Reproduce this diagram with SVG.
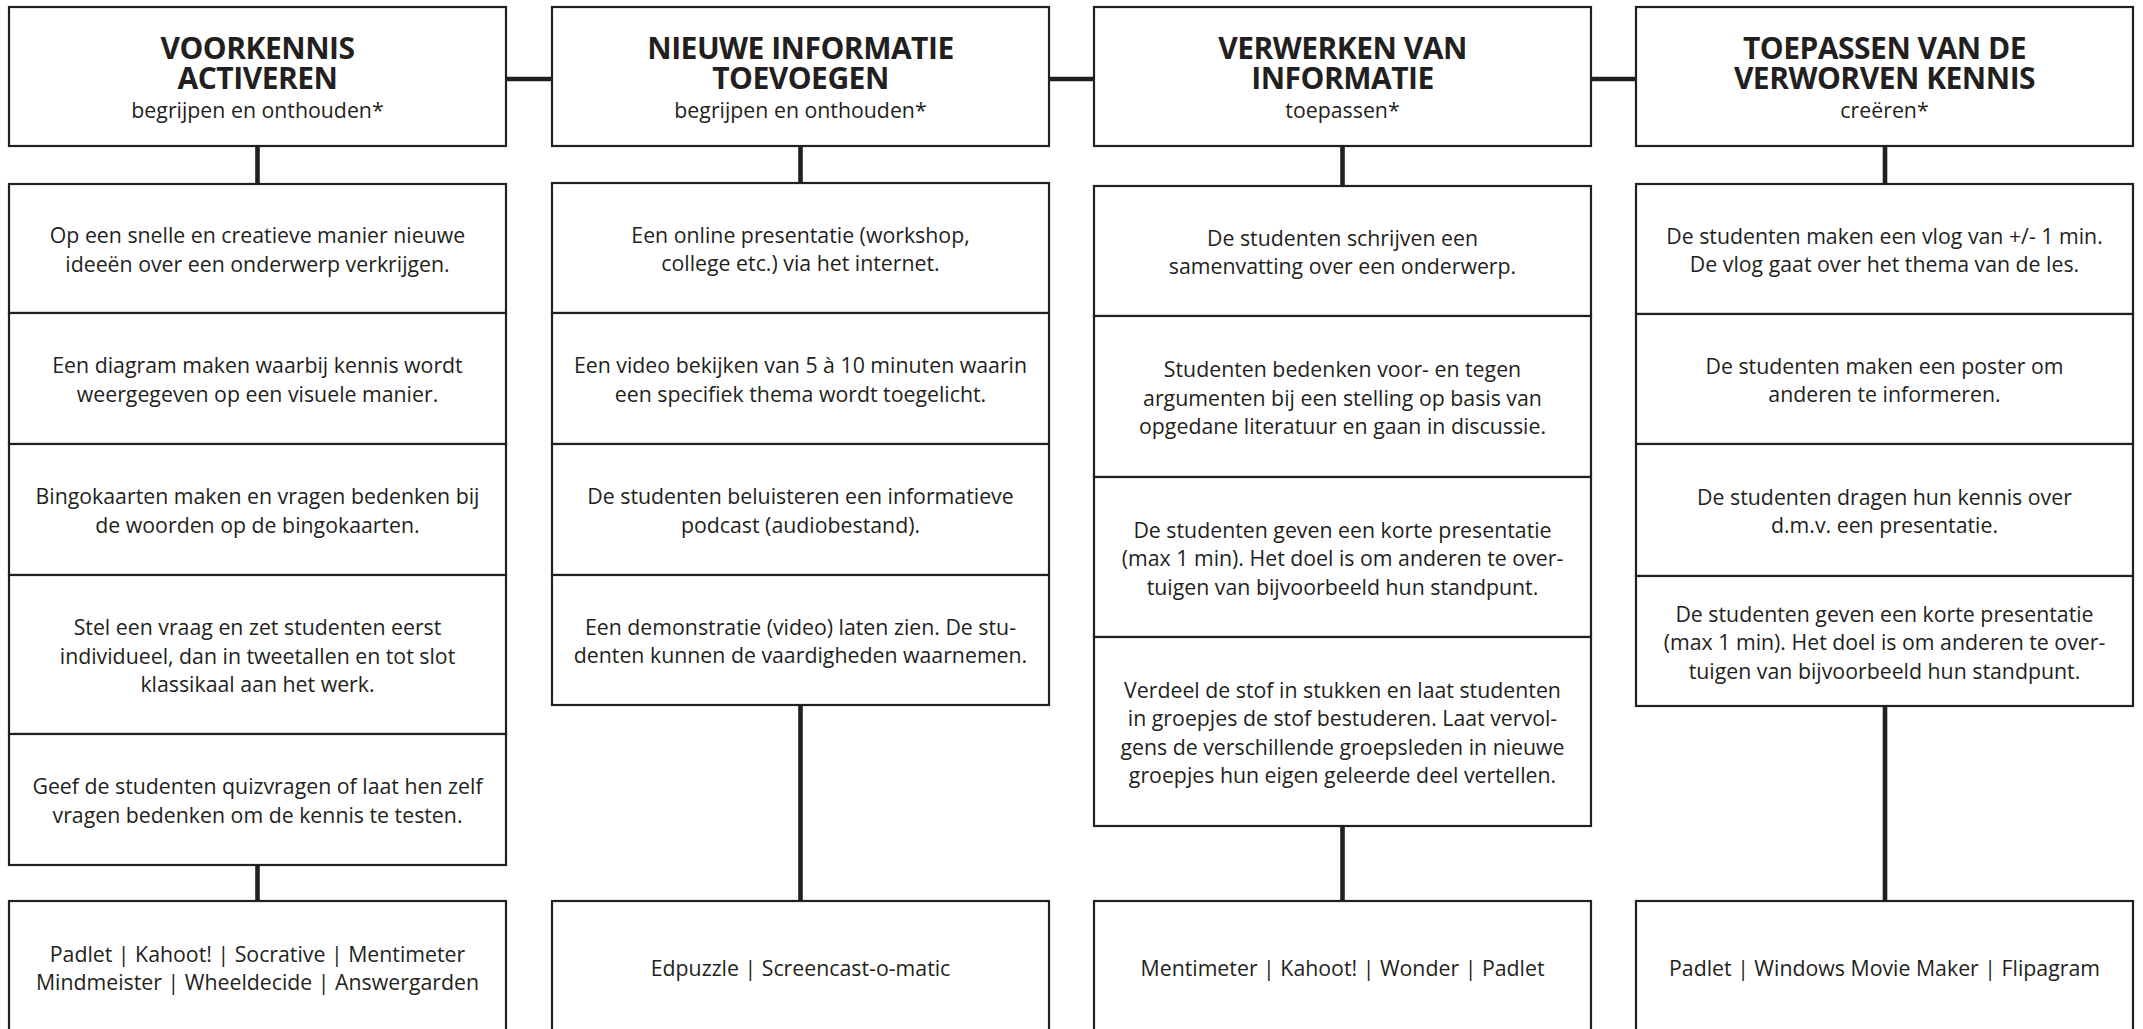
<svg xmlns="http://www.w3.org/2000/svg" width="2143" height="1029" viewBox="0 0 2143 1029">
<style>
.bg{fill:#ffffff}
.box{fill:#ffffff;stroke:#231f20;stroke-width:2.2}
.conn{stroke:#231f20;stroke-width:4.6;fill:none}
.hd{font-family:"Open Sans","Liberation Sans",sans-serif;fill:#231f20;text-anchor:middle}
.b{font-weight:700;font-size:30px;letter-spacing:-0.5px}
.s{font-weight:400;font-size:21.3px;letter-spacing:0}
.t{font-family:"Open Sans","Liberation Sans",sans-serif;font-size:21.3px;fill:#231f20;text-anchor:middle}
</style>
<rect class="bg" x="0" y="0" width="2143" height="1029"/>
<g id="connectors">
<line class="conn" x1="506" y1="79" x2="552" y2="79"/>
<line class="conn" x1="1049" y1="79" x2="1094" y2="79"/>
<line class="conn" x1="1591" y1="79" x2="1636" y2="79"/>
<line class="conn" x1="257.5" y1="146" x2="257.5" y2="184"/>
<line class="conn" x1="800.5" y1="146" x2="800.5" y2="183"/>
<line class="conn" x1="1342.5" y1="146" x2="1342.5" y2="186"/>
<line class="conn" x1="1885" y1="146" x2="1885" y2="184"/>
<line class="conn" x1="257.5" y1="865" x2="257.5" y2="901"/>
<line class="conn" x1="800.5" y1="705" x2="800.5" y2="901"/>
<line class="conn" x1="1342.5" y1="826" x2="1342.5" y2="901"/>
<line class="conn" x1="1885" y1="706" x2="1885" y2="901"/>
</g>

<!-- Column 1 -->
<g id="h1">
<rect class="box" x="9" y="7" width="497" height="139"/>
<text class="hd"><tspan class="b" x="257.5" y="59">VOORKENNIS</tspan><tspan class="b" x="257.5" y="89">ACTIVEREN</tspan><tspan class="s" x="257.5" y="118">begrijpen en onthouden*</tspan></text>
</g>
<g id="c1a">
<rect class="box" x="9" y="184" width="497" height="129"/>
<text class="t" x="257.5" y="243.3">Op een snelle en creatieve manier nieuwe</text>
<text class="t" x="257.5" y="271.8">ideeën over een onderwerp verkrijgen.</text>
</g>
<g id="c1b">
<rect class="box" x="9" y="313" width="497" height="131"/>
<text class="t" x="257.5" y="373.3">Een diagram maken waarbij kennis wordt</text>
<text class="t" x="257.5" y="401.8">weergegeven op een visuele manier.</text>
</g>
<g id="c1c">
<rect class="box" x="9" y="444" width="497" height="131"/>
<text class="t" x="257.5" y="504.3">Bingokaarten maken en vragen bedenken bij</text>
<text class="t" x="257.5" y="532.8">de woorden op de bingokaarten.</text>
</g>
<g id="c1d">
<rect class="box" x="9" y="575" width="497" height="159"/>
<text class="t" x="257.5" y="635">Stel een vraag en zet studenten eerst</text>
<text class="t" x="257.5" y="663.5">individueel, dan in tweetallen en tot slot</text>
<text class="t" x="257.5" y="692">klassikaal aan het werk.</text>
</g>
<g id="c1e">
<rect class="box" x="9" y="734" width="497" height="131"/>
<text class="t" x="257.5" y="794.3">Geef de studenten quizvragen of laat hen zelf</text>
<text class="t" x="257.5" y="822.8">vragen bedenken om de kennis te testen.</text>
</g>
<g id="t1">
<rect class="box" x="9" y="901" width="497" height="133"/>
<text class="t" x="257.5" y="961.8">Padlet | Kahoot! | Socrative | Mentimeter</text>
<text class="t" x="257.5" y="990.3">Mindmeister | Wheeldecide | Answergarden</text>
</g>

<!-- Column 2 -->
<g id="h2">
<rect class="box" x="552" y="7" width="497" height="139"/>
<text class="hd"><tspan class="b" x="800.5" y="59">NIEUWE INFORMATIE</tspan><tspan class="b" x="800.5" y="89">TOEVOEGEN</tspan><tspan class="s" x="800.5" y="118">begrijpen en onthouden*</tspan></text>
</g>
<g id="c2a">
<rect class="box" x="552" y="183" width="497" height="130"/>
<text class="t" x="800.5" y="242.8">Een online presentatie (workshop,</text>
<text class="t" x="800.5" y="271.3">college etc.) via het internet.</text>
</g>
<g id="c2b">
<rect class="box" x="552" y="313" width="497" height="131"/>
<text class="t" x="800.5" y="373.3">Een video bekijken van 5 à 10 minuten waarin</text>
<text class="t" x="800.5" y="401.8">een specifiek thema wordt toegelicht.</text>
</g>
<g id="c2c">
<rect class="box" x="552" y="444" width="497" height="131"/>
<text class="t" x="800.5" y="504.3">De studenten beluisteren een informatieve</text>
<text class="t" x="800.5" y="532.8">podcast (audiobestand).</text>
</g>
<g id="c2d">
<rect class="box" x="552" y="575" width="497" height="130"/>
<text class="t" x="800.5" y="634.8">Een demonstratie (video) laten zien. De stu-</text>
<text class="t" x="800.5" y="663.3">denten kunnen de vaardigheden waarnemen.</text>
</g>
<g id="t2">
<rect class="box" x="552" y="901" width="497" height="133"/>
<text class="t" x="800.5" y="976">Edpuzzle | Screencast-o-matic</text>
</g>

<!-- Column 3 -->
<g id="h3">
<rect class="box" x="1094" y="7" width="497" height="139"/>
<text class="hd"><tspan class="b" x="1342.5" y="59">VERWERKEN VAN</tspan><tspan class="b" x="1342.5" y="89">INFORMATIE</tspan><tspan class="s" x="1342.5" y="118">toepassen*</tspan></text>
</g>
<g id="c3a">
<rect class="box" x="1094" y="186" width="497" height="130"/>
<text class="t" x="1342.5" y="245.8">De studenten schrijven een</text>
<text class="t" x="1342.5" y="274.3">samenvatting over een onderwerp.</text>
</g>
<g id="c3b">
<rect class="box" x="1094" y="316" width="497" height="161"/>
<text class="t" x="1342.5" y="377">Studenten bedenken voor- en tegen</text>
<text class="t" x="1342.5" y="405.5">argumenten bij een stelling op basis van</text>
<text class="t" x="1342.5" y="434">opgedane literatuur en gaan in discussie.</text>
</g>
<g id="c3c">
<rect class="box" x="1094" y="477" width="497" height="160"/>
<text class="t" x="1342.5" y="537.5">De studenten geven een korte presentatie</text>
<text class="t" x="1342.5" y="566">(max 1 min). Het doel is om anderen te over-</text>
<text class="t" x="1342.5" y="594.5">tuigen van bijvoorbeeld hun standpunt.</text>
</g>
<g id="c3d">
<rect class="box" x="1094" y="637" width="497" height="189"/>
<text class="t" x="1342.5" y="697.8">Verdeel de stof in stukken en laat studenten</text>
<text class="t" x="1342.5" y="726.3">in groepjes de stof bestuderen. Laat vervol-</text>
<text class="t" x="1342.5" y="754.8">gens de verschillende groepsleden in nieuwe</text>
<text class="t" x="1342.5" y="783.3">groepjes hun eigen geleerde deel vertellen.</text>
</g>
<g id="t3">
<rect class="box" x="1094" y="901" width="497" height="133"/>
<text class="t" x="1342.5" y="976">Mentimeter | Kahoot! | Wonder | Padlet</text>
</g>

<!-- Column 4 -->
<g id="h4">
<rect class="box" x="1636" y="7" width="497" height="139"/>
<text class="hd"><tspan class="b" x="1884.5" y="59">TOEPASSEN VAN DE</tspan><tspan class="b" x="1884.5" y="89">VERWORVEN KENNIS</tspan><tspan class="s" x="1884.5" y="118">creëren*</tspan></text>
</g>
<g id="c4a">
<rect class="box" x="1636" y="184" width="497" height="130"/>
<text class="t" x="1884.5" y="243.8">De studenten maken een vlog van +/- 1 min.</text>
<text class="t" x="1884.5" y="272.3">De vlog gaat over het thema van de les.</text>
</g>
<g id="c4b">
<rect class="box" x="1636" y="314" width="497" height="130"/>
<text class="t" x="1884.5" y="373.8">De studenten maken een poster om</text>
<text class="t" x="1884.5" y="402.3">anderen te informeren.</text>
</g>
<g id="c4c">
<rect class="box" x="1636" y="444" width="497" height="132"/>
<text class="t" x="1884.5" y="504.8">De studenten dragen hun kennis over</text>
<text class="t" x="1884.5" y="533.3">d.m.v. een presentatie.</text>
</g>
<g id="c4d">
<rect class="box" x="1636" y="576" width="497" height="130"/>
<text class="t" x="1884.5" y="621.5">De studenten geven een korte presentatie</text>
<text class="t" x="1884.5" y="650">(max 1 min). Het doel is om anderen te over-</text>
<text class="t" x="1884.5" y="678.5">tuigen van bijvoorbeeld hun standpunt.</text>
</g>
<g id="t4">
<rect class="box" x="1636" y="901" width="497" height="133"/>
<text class="t" x="1884.5" y="976">Padlet | Windows Movie Maker | Flipagram</text>
</g>
</svg>
